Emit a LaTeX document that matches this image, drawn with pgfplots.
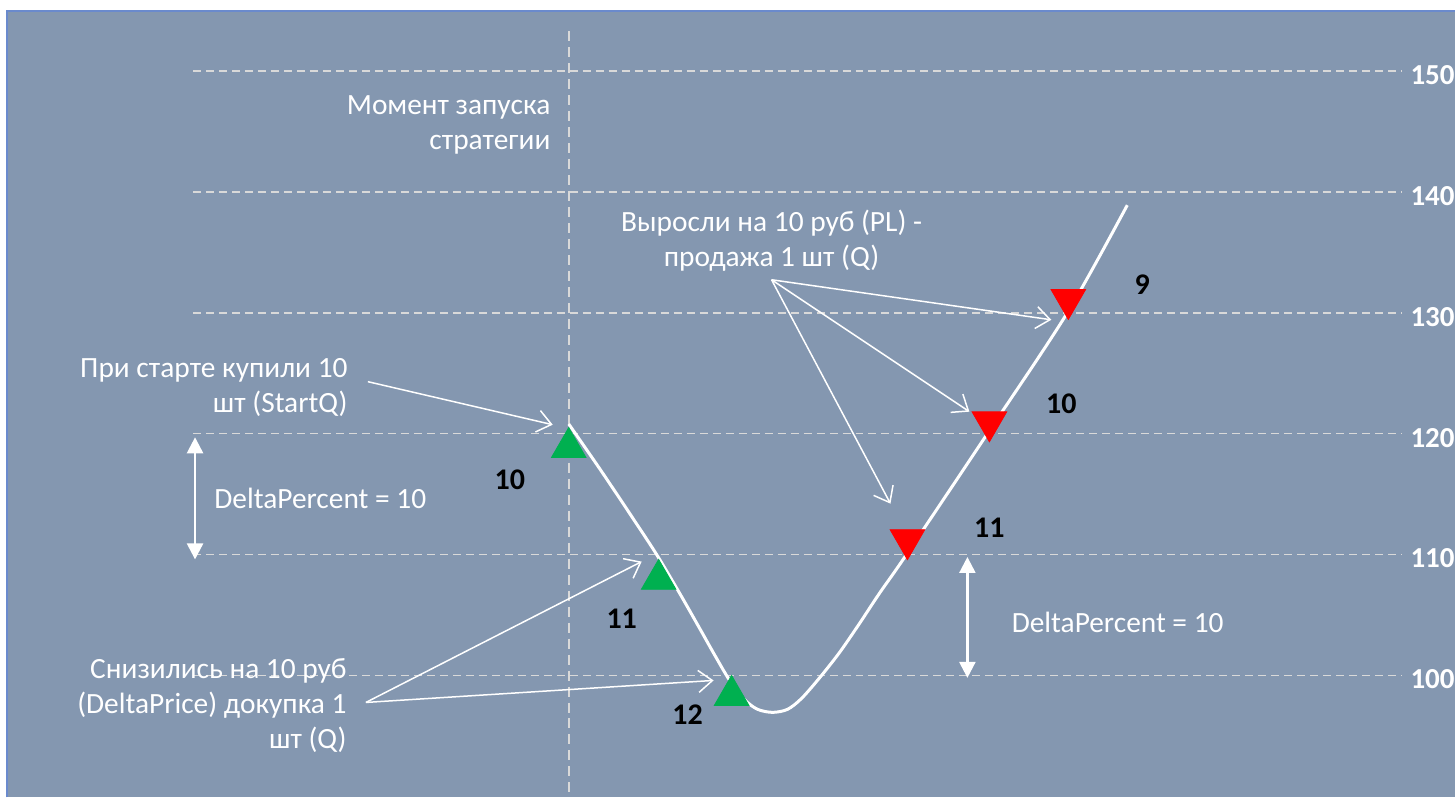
\documentclass[border=0pt]{standalone}
\usepackage{fontspec}
\setmainfont{Carlito}
\usepackage{pgfplots}
\pgfplotsset{compat=1.18}
\usetikzlibrary{arrows.meta}
\definecolor{bg}{HTML}{8497B0}
\definecolor{frm}{HTML}{6A8ACD}
\definecolor{gridc}{HTML}{D9D9D9}
\definecolor{buy}{HTML}{00B050}
\definecolor{sell}{HTML}{FF0000}
\begin{document}
\begin{tikzpicture}
\begin{axis}[
  scale only axis, width=728pt, height=399pt,
  xmin=0, xmax=1456, ymin=89.92, ymax=155.87,
  axis on top=true,
  axis line style={draw=none},
  xtick=\empty, ytick={100,110,120,130,140,150},
  yticklabel pos=right,
  major tick length=0pt,
  yticklabel style={anchor=east, inner sep=0pt, xshift=0pt, yshift=-2pt, font=\fontsize{14.5}{16}\selectfont\bfseries, text=white},
  /pgf/number format/assume math mode=true,
  clip=false,
]
% background and frame
\fill[bg] (axis cs:7,155.0) rectangle (axis cs:1456,89.92);
\draw[frm, line width=1pt] (axis cs:7,89.92) -- (axis cs:7,155.0) -- (axis cs:1456,155.0);
% grid lines
\draw[gridc, line width=0.75pt, dash pattern=on 4pt off 2.5pt] (axis cs:193,100) -- (axis cs:1403,100);
\draw[gridc, line width=0.75pt, dash pattern=on 4pt off 2.5pt] (axis cs:193,110) -- (axis cs:1403,110);
\draw[gridc, line width=0.75pt, dash pattern=on 4pt off 2.5pt] (axis cs:193,120) -- (axis cs:1403,120);
\draw[gridc, line width=0.75pt, dash pattern=on 4pt off 2.5pt] (axis cs:193,130) -- (axis cs:1403,130);
\draw[gridc, line width=0.75pt, dash pattern=on 4pt off 2.5pt] (axis cs:193,140) -- (axis cs:1403,140);
\draw[gridc, line width=0.75pt, dash pattern=on 4pt off 2.5pt] (axis cs:193,150) -- (axis cs:1403,150);
% start moment line
\draw[gridc, line width=1pt, dash pattern=on 5pt off 3pt] (axis cs:569,153.3) -- (axis cs:569,89.92);
% price curve
\addplot[white, line width=1.5pt, smooth, tension=0.5] coordinates {
(569,120.8) (600,117.1) (630,113.4) (657,110.0) (680,106.8) (700,103.9) (715,101.7) (730,99.6)
(745,98.0) (758,97.2) (773,96.95) (788,97.2) (802,98.1) (820,99.8) (840,101.9) (860,104.3)
(880,106.8) (907,110) (988,120) (1068,130) (1128,138.9)};
% buys
\addplot[only marks, color=buy, draw=buy, fill=buy, mark=triangle*, mark size=10pt] coordinates {
(569,118.85) (659,107.95) (732,98.35)};
% sells
\addplot[only marks, color=sell, draw=sell, fill=sell, mark=triangle*, mark size=10pt, mark options={rotate=180}] coordinates {
(1069,131.1) (990,120.98) (908,111.23)};
% position counts
\begin{scope}[every node/.style={font=\fontsize{15}{17}\selectfont\bfseries, text=black}]
\node at (axis cs:510,116.2) {10};
\node at (axis cs:622,104.71) {11};
\node at (axis cs:688,96.78) {12};
\node at (axis cs:1143,132.31) {9};
\node at (axis cs:1062,122.48) {10};
\node at (axis cs:990,112.21) {11};
\end{scope}
% texts
\begin{scope}[every node/.style={font=\fontsize{14.7}{17.5}\selectfont, text=white, inner sep=0pt}]
\node[anchor=east, align=right] at (axis cs:551,145.5) {Момент запуска\\стратегии};
\node[anchor=east, align=right] at (axis cs:348,123.84) {При старте купили 10\\шт (StartQ)};
\node[anchor=west] at (axis cs:214,114.63) {DeltaPercent = 10};
\node[anchor=east, align=right] at (axis cs:347,97.52) {Снизились на 10 руб\\(DeltaPrice) докупка 1\\шт (Q)};
\node[align=center] at (axis cs:772,135.95) {Выросли на 10 руб (PL) -\\продажа 1 шт (Q)};
\node[anchor=west] at (axis cs:1012,104.38) {DeltaPercent = 10};
\end{scope}
% arrows
\begin{scope}[white, line width=0.75pt, -{Straight Barb[length=7pt,width=11pt]}]
\draw (axis cs:368,124.30) -- (axis cs:553,120.74);
\draw (axis cs:366,97.77) -- (axis cs:642,109.42);
\draw (axis cs:366,97.77) -- (axis cs:714,99.59);
\draw (axis cs:772,132.73) -- (axis cs:1052,129.42);
\draw (axis cs:772,132.73) -- (axis cs:970,121.82);
\draw (axis cs:772,132.73) -- (axis cs:891,114.21);
\end{scope}
\draw[white, line width=1.2pt, {Triangle[length=8pt,width=8pt]}-{Triangle[length=8pt,width=8pt]}] (axis cs:195,119.7) -- (axis cs:195,109.6);
\draw[white, line width=1.2pt, {Triangle[length=8pt,width=8pt]}-{Triangle[length=8pt,width=8pt]}] (axis cs:968,109.8) -- (axis cs:968,99.8);
\end{axis}
\end{tikzpicture}
\end{document}
